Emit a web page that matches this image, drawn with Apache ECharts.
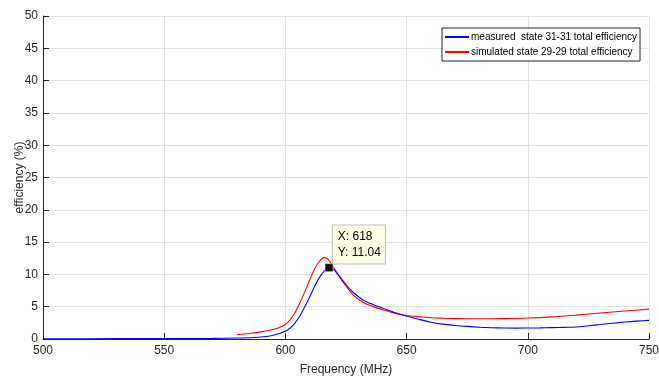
<!DOCTYPE html>
<html>
<head>
<meta charset="utf-8">
<script src="https://cdn.jsdelivr.net/npm/echarts@6/dist/echarts.min.js"></script>
<style>
  html, body { margin: 0; padding: 0; background: #fff; }
  #chart { width: 659px; height: 378px; }
</style>
</head>
<body>
<div id="chart"></div>
<script>
// Measured efficiency, state 31-31
const measFreq = [500, 520, 540, 560, 570, 580, 585, 590, 594, 597, 600, 602, 604, 606, 608, 610, 612, 614, 616, 617, 618, 619, 620, 622, 625, 628, 632, 636, 640, 645, 650, 655, 660, 665, 670, 675, 680, 685, 690, 695, 700, 705, 710, 715, 720, 725, 730, 735, 740, 745, 750];
const measEff  = [0.05, 0.05, 0.06, 0.08, 0.1, 0.15, 0.2, 0.3, 0.5, 0.8, 1.2, 1.7, 2.5, 3.6, 5.0, 6.5, 8.1, 9.5, 10.5, 10.9, 11.04, 10.95, 10.75, 9.85, 8.4, 7.2, 6.05, 5.35, 4.8, 4.1, 3.55, 3.05, 2.6, 2.3, 2.1, 1.95, 1.83, 1.75, 1.7, 1.68, 1.7, 1.72, 1.76, 1.8, 1.85, 2.05, 2.25, 2.45, 2.62, 2.76, 2.89];

// Simulated efficiency, state 29-29
const simFreq = [580, 585, 590, 594, 597, 600, 602, 604, 606, 608, 610, 611, 612, 613, 614, 615, 616, 617, 618, 619, 620, 622, 625, 628, 632, 636, 640, 645, 650, 655, 660, 665, 670, 680, 690, 700, 710, 720, 730, 740, 750];
const simEff  = [0.67, 0.85, 1.1, 1.4, 1.7, 2.25, 3.0, 4.1, 5.6, 7.3, 9.1, 10.0, 10.8, 11.5, 12.0, 12.4, 12.6, 12.5, 12.15, 11.6, 11.0, 9.8, 8.2, 6.8, 5.7, 5.05, 4.55, 4.0, 3.65, 3.45, 3.3, 3.22, 3.16, 3.13, 3.16, 3.24, 3.42, 3.7, 4.02, 4.33, 4.63];

const seriesNames = ['measured  state 31-31 total efficiency', 'simulated state 29-29 total efficiency'];

// Data cursor on the measured curve
const cursorX = 618;
const cursorY = 11.04;

const zip = (xs, ys) => xs.map((x, i) => [x, ys[i]]);

const axisColor = '#262626';
const gridColor = '#e3e3e3';
const font = 'Liberation Sans, Arial, sans-serif';

const chart = echarts.init(document.getElementById('chart'), null, { renderer: 'canvas' });
chart.setOption({
  animation: false,
  backgroundColor: '#ffffff',
  grid: { left: 43, right: 10, top: 16, bottom: 39, containLabel: false, outerBoundsMode: 'none' },
  legend: {
    orient: 'vertical',
    left: 442,
    top: 28,
    padding: [4, 3, 4, 3],
    itemGap: 5,
    itemWidth: 24,
    itemHeight: 2,
    icon: 'rect',
    backgroundColor: '#ffffff',
    borderColor: axisColor,
    borderWidth: 1,
    borderRadius: 0,
    textStyle: { fontFamily: font, fontSize: 10, color: '#000', padding: [0, 0, 0, -3] },
    data: seriesNames
  },
  xAxis: {
    type: 'value',
    min: 500, max: 750, interval: 50,
    name: 'Frequency (MHz)',
    nameLocation: 'middle',
    nameGap: 25,
    nameMoveOverlap: false,
    nameTextStyle: { fontFamily: font, fontSize: 12, color: axisColor },
    axisLine: { show: true, onZero: false, lineStyle: { color: axisColor, width: 1 } },
    axisTick: { show: true, inside: true, length: 6, lineStyle: { color: axisColor } },
    axisLabel: { fontFamily: font, fontSize: 12, color: axisColor, margin: 6 },
    splitLine: { show: true, lineStyle: { color: gridColor, width: 1 } }
  },
  yAxis: {
    type: 'value',
    min: 0, max: 50, interval: 5,
    name: 'efficiency (%)',
    nameLocation: 'middle',
    nameGap: 17,
    nameMoveOverlap: false,
    nameTextStyle: { fontFamily: font, fontSize: 12, color: axisColor },
    axisLine: { show: true, lineStyle: { color: axisColor, width: 1 } },
    axisTick: { show: true, inside: true, length: 6, lineStyle: { color: axisColor } },
    axisLabel: { fontFamily: font, fontSize: 12, color: axisColor, margin: 5 },
    splitLine: { show: true, lineStyle: { color: gridColor, width: 1 } }
  },
  series: [
    {
      name: seriesNames[0],
      type: 'line',
      data: zip(measFreq, measEff),
      smooth: 0.3,
      showSymbol: false,
      lineStyle: { color: '#0000ff', width: 1.1 },
      itemStyle: { color: '#0000ff' },
      z: 3,
      markPoint: {
        symbol: 'rect',
        symbolSize: 8,
        itemStyle: { color: '#000000', borderColor: '#ffffff', borderWidth: 0.5 },
        data: [{ coord: [cursorX, cursorY] }],
        label: {
          show: true,
          position: [8, -38],
          formatter: () => 'X: ' + cursorX + '\nY: ' + cursorY.toFixed(2),
          fontFamily: font,
          fontSize: 12,
          lineHeight: 16,
          color: '#000',
          backgroundColor: '#ffffe6',
          borderColor: '#bdbdbd',
          borderWidth: 1,
          padding: [3, 4, 3, 5],
          align: 'left',
          verticalAlign: 'top'
        },
        z: 10
      }
    },
    {
      name: seriesNames[1],
      type: 'line',
      data: zip(simFreq, simEff),
      smooth: 0.3,
      showSymbol: false,
      lineStyle: { color: '#ff0000', width: 1.1 },
      itemStyle: { color: '#ff0000' },
      z: 2
    }
  ]
});
</script>
</body>
</html>
